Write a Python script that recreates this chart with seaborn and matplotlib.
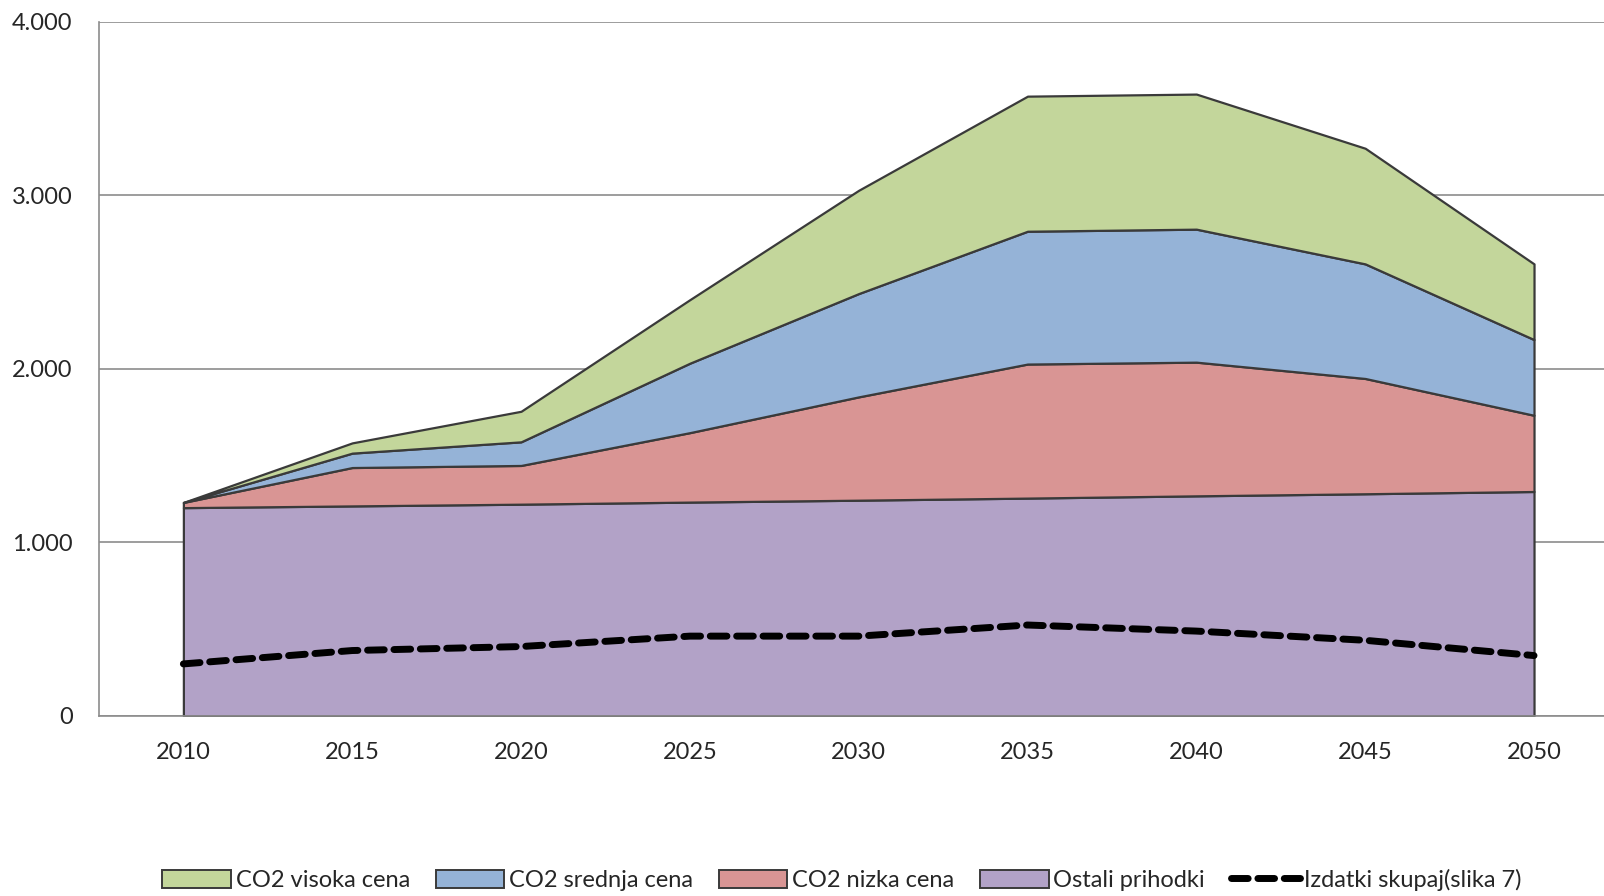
import matplotlib
matplotlib.use("Agg")
import matplotlib.pyplot as plt
import matplotlib.ticker as mticker
from matplotlib.patches import Patch
from matplotlib.lines import Line2D
import seaborn as sns
import pandas as pd
import numpy as np

years = ["2010", "2015", "2020", "2025", "2030", "2035", "2040", "2045", "2050"]
ostali = [1200, 1210, 1220, 1232, 1243, 1255, 1268, 1280, 1293]
co2_nizka = [30, 221, 223, 400, 595, 772, 770, 664, 439]
co2_srednja = [0, 83, 136, 400, 595, 765, 766, 660, 436]
co2_visoka = [0, 59, 176, 366, 595, 778, 778, 666, 436]
izdatki = [300, 377, 400, 460, 460, 524, 489, 436, 348]

labels = ["CO2 visoka cena", "CO2 srednja cena", "CO2 nizka cena", "Ostali prihodki",
          "Izdatki skupaj(slika 7)"]
colors = {"Ostali prihodki": "#B2A2C7", "CO2 nizka cena": "#D99594",
          "CO2 srednja cena": "#95B3D7", "CO2 visoka cena": "#C3D69B"}

sns.set_style("white")
plt.rcParams['font.family'] = ['Lato', 'DejaVu Sans']
plt.rcParams['font.size'] = 17

df = pd.DataFrame({"x": np.arange(len(years)), "izdatki": izdatki})

fig = plt.figure(figsize=(16.04, 8.96), dpi=100)
ax = fig.add_axes([0.0617, 0.2009, 0.9473, 0.7751])

# stacked areas, bottom to top
bottom = np.zeros(len(years))
for name, vals in [("Ostali prihodki", ostali), ("CO2 nizka cena", co2_nizka),
                   ("CO2 srednja cena", co2_srednja), ("CO2 visoka cena", co2_visoka)]:
    top = bottom + np.array(vals)
    ax.fill_between(df["x"], bottom, top, facecolor=colors[name], edgecolor="#3a3a3a",
                    linewidth=1.6, zorder=2)
    bottom = top

sns.lineplot(data=df, x="x", y="izdatki", ax=ax, color="black", linewidth=5,
             linestyle=(0, (2.4, 1.4)), dash_capstyle="round", zorder=3)

ax.set_xlim(-0.5, 8.5)
ax.set_ylim(0, 4000)
ax.set_yticks([0, 1000, 2000, 3000, 4000])
ax.yaxis.set_major_formatter(mticker.FuncFormatter(lambda v, p: f"{int(v):,}".replace(",", ".")))
ax.yaxis.grid(True, color="#8c8c8c", linewidth=1.2, zorder=0)
ax.set_axisbelow(True)

ax.set_xticks(np.arange(-0.5, 9, 1))
ax.set_xticklabels([])
ax.set_xticks(np.arange(len(years)), minor=True)
ax.set_xticklabels(years, minor=True)
ax.tick_params(axis="x", which="major", direction="out", length=8, width=1.2, color="#8c8c8c")
ax.tick_params(axis="x", which="minor", length=0, pad=19)
ax.tick_params(axis="y", direction="out", length=8, width=1.2, color="#8c8c8c", pad=11)
ax.set_xlabel("")
ax.set_ylabel("")

for s in ["top", "right"]:
    ax.spines[s].set_visible(False)
for s in ["left", "bottom"]:
    ax.spines[s].set_color("#8c8c8c")
    ax.spines[s].set_linewidth(1.2)

handles = [Patch(facecolor=colors[n], edgecolor="#3a3a3a", linewidth=1.4) for n in labels[:4]]
handles.append(Line2D([0], [0], color="black", linewidth=5, linestyle=(0, (2.4, 1.4)),
                      dash_capstyle="round"))
fig.legend(handles, labels, loc="center", bbox_to_anchor=(0.525, 0.018), ncol=5, frameon=False,
           handlelength=2.9, handleheight=0.8, handletextpad=0.2, columnspacing=1.1,
           fontsize=17)

fig.savefig("out.png", dpi=100)
